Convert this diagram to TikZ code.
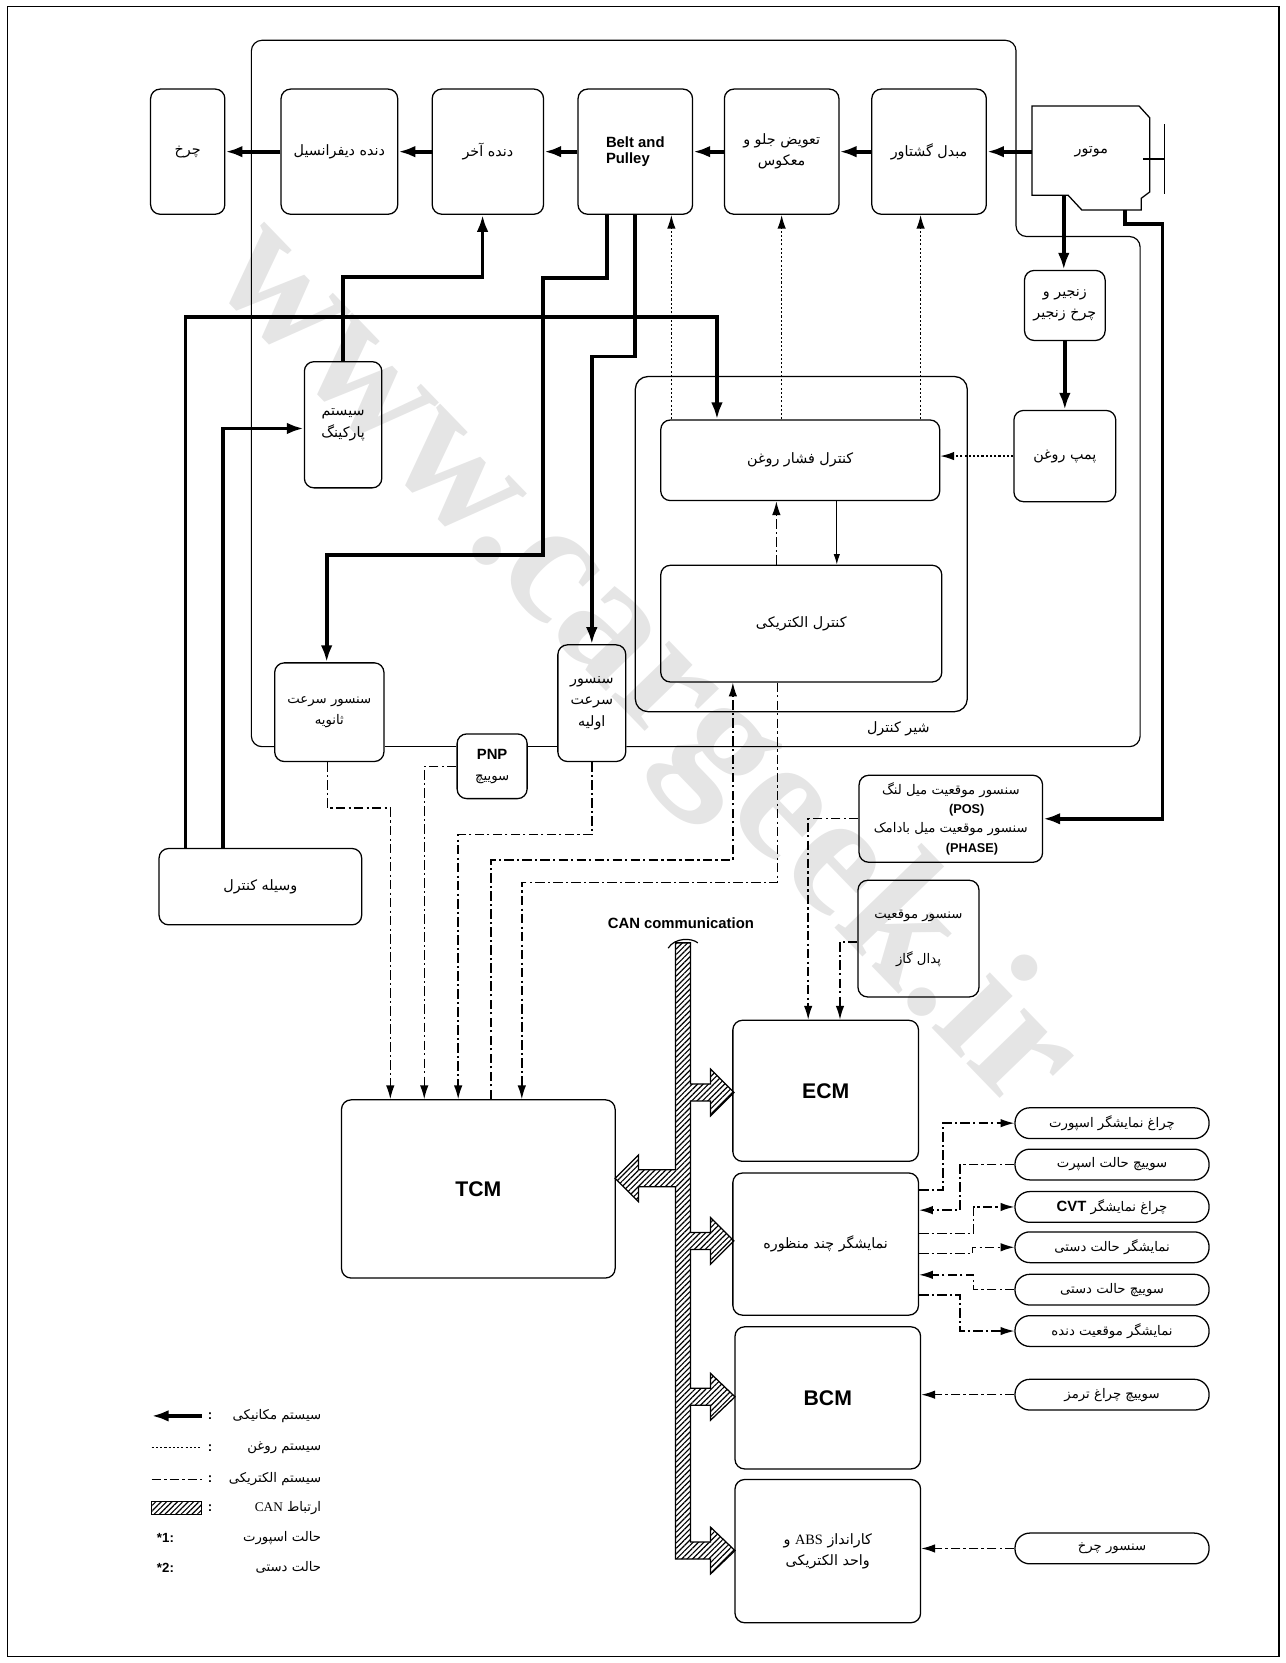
\documentclass[tikz,border=0pt]{standalone}
\usepackage{fontspec}
\setmainfont{Liberation Sans}
\newfontfamily\farsi[Script=Arabic]{DejaVu Sans}
\newfontfamily\serifl{Liberation Serif}
\usepackage{tikz}
\usetikzlibrary{arrows.meta,patterns.meta}
\TeXXeTstate=1
\newcommand{\fatext}[1]{{\farsi\beginR #1\endR}}
\newcommand{\lat}[1]{\beginL #1\endL}
\newcommand{\fs}{\fontsize{12.5}{20}\selectfont}
\newcommand{\fl}{\fontsize{13.5}{20}\selectfont}

\begin{document}
\begin{tikzpicture}[x=1pt, y=-1pt,
    box/.style={draw, rounded corners=9pt, line width=1.2pt, inner sep=2pt, align=center, font=\fs},
    wh/.style 2 args={minimum width=#1, minimum height=#2},
    pill/.style={draw, rounded corners=14pt, line width=1.2pt, minimum width=183, minimum height=29, inner sep=0pt, font=\fs},
    txt/.style={font=\fs, inner sep=1pt},
    housing/.style={line width=1.1pt, rounded corners=10pt},
    mechline/.style={line width=3.5pt},
    mech/.style={mechline, -{Latex[length=16pt,width=11pt]}},
    oil/.style={line width=1.3pt, dash pattern=on 2pt off 2pt, -{Latex[length=13pt,width=8pt]}},
    elec/.style={line width=1.3pt, dash pattern=on 9pt off 3pt on 2pt off 3pt, -{Latex[length=13pt,width=8pt]}},
    thinarrow/.style={line width=1pt, -{Latex[length=10pt,width=6pt]}},
    can/.style={draw, line width=1.2pt, pattern={Lines[angle=45,distance=3.6pt,line width=1.1pt]}},
    bigtext/.style={font=\fontsize{20}{24}\selectfont\bfseries}
]
\useasboundingbox (0,0) rectangle (1212,1568);

% Watermark
\node[rotate=-46, text=gray!20, font=\serifl\bfseries\fontsize{165}{165}\selectfont] (watermark) at (605,630) {www.cargeek.ir};

% Frame
\draw[line width=1.2pt] (7,6) rectangle (1206,1562);

% Top row
\node[box, wh={70}{118}, font=\fl] (wheel) at (177,143) {\fatext{چرخ}};
\node[box, wh={110}{118}, font=\fl] (diff) at (320,143) {\fatext{دنده دیفرانسیل}};
\node[box, wh={105}{118}, font=\fl] (final) at (460,143) {\fatext{دنده آخر}};
\node[box, wh={108}{118}, align=left, font=\bfseries\fontsize{14}{16}\selectfont] (belt) at (599,143) {Belt and\\Pulley};
\node[box, wh={108}{118}, font=\fl] (fwdrev) at (737,143) {\fatext{تعویض جلو و}\\\fatext{معکوس}};
\node[box, wh={108}{118}, font=\fl] (torque) at (876,143) {\fatext{مبدل گشتاور}};
\node[txt, wh={112}{86}, font=\fl] (engine) at (1029,143) {\fatext{موتور}};
\draw[line width=1.2pt] (973,100) -- (1074,100) -- (1084,111) -- (1084,181) -- (1076,187)
    -- (1076,198) -- (1020,198) -- (1007,184) -- (973,184) -- cycle;
\draw[line width=1.2pt] (1078,150) -- (1098,150) (1098,117) -- (1098,183);

% Right column
\node[box, wh={76}{66}, font=\fl] (chain) at (1004,288) {\fatext{زنجیر و}\\\fatext{چرخ زنجیر}};
\node[box, wh={96}{86}, font=\fl] (pump) at (1004,430) {\fatext{پمپ روغن}};

% Control valve
\node[box, wh={313}{316}, rounded corners=12pt] (valve) at (755.5,513) {};
\node[box, wh={263}{76}, font=\fl] (press) at (754.5,434) {\fatext{کنترل فشار روغن}};
\node[box, wh={265}{110}, font=\fl] (elec) at (755.5,588) {\fatext{کنترل الکتریکی}};
\node[txt, font=\fl] (valvelabel) at (847,687) {\fatext{شیر کنترل}};

% Sensors and parking
\node[box, wh={73}{119}, font=\fl] (park) at (323.5,400.5) {\fatext{سیستم}\\\fatext{پارکینگ}};
\node[box, wh={103}{93}] (sec) at (310.5,671.5) {\fatext{سنسور سرعت}\\\fatext{ثانویه}};
\node[box, wh={66}{61}] (pnp) at (464,722.5) {{\bfseries\fontsize{14}{16}\selectfont PNP}\\\fatext{سوییچ}};
\node[box, wh={64}{110}, font=\fl] (prim) at (558,663) {\fatext{سنسور}\\\fatext{سرعت}\\\fatext{اولیه}};
\node[box, wh={191}{72}, font=\fl] (ctrl) at (245.5,836) {\fatext{وسیله کنترل}};
\node[box, wh={173}{82}, font=\fontsize{12.5}{18}\selectfont] (pos) at (896.5,772) {\fatext{سنسور موقعیت میل لنگ}\\\hspace*{30pt}{\bfseries\fontsize{12}{14}\selectfont (POS)}\\\fatext{سنسور موقعیت میل بادامک}\\\hspace*{40pt}{\bfseries\fontsize{12}{14}\selectfont (PHASE)}};
\node[box, wh={114}{110}] (pedal) at (866,885) {\fatext{سنسور موقعیت}\\[22pt]\fatext{پدال گاز}};

% Control units
\node[box, wh={258}{168}, bigtext] (tcm) at (451,1121) {TCM};
\node[box, wh={175}{133}, bigtext] (ecm) at (778.5,1028.5) {ECM};
\node[box, wh={175}{134}, font=\fl] (md) at (778.5,1173) {\fatext{نمایشگر چند منظوره}};
\node[box, wh={175}{134}, bigtext] (bcm) at (780.5,1318) {BCM};
\node[box, wh={175}{135}, font=\fl] (abs) at (780.5,1462.5) {\fatext{کارانداز \lat{{\serifl ABS}} و}\\\fatext{واحد الکتریکی}};

% Switches and lamps
\node[pill] (sportlamp) at (1048.5,1059) {\fatext{چراغ نمایشگر اسپورت}};
\node[pill] (sportsw) at (1048.5,1098) {\fatext{سوییچ حالت اسپرت}};
\node[pill] (cvtlamp) at (1048.5,1138) {\fatext{چراغ نمایشگر \lat{{\normalfont\bfseries\fontsize{14}{15}\selectfont CVT}}}};
\node[pill] (manualdisp) at (1048.5,1176) {\fatext{نمایشگر حالت دستی}};
\node[pill] (manualsw) at (1048.5,1216) {\fatext{سوییچ حالت دستی}};
\node[pill] (gearpos) at (1048.5,1255) {\fatext{نمایشگر موقعیت دنده}};
\node[pill] (brakesw) at (1048.5,1315) {\fatext{سوییچ چراغ ترمز}};
\node[pill] (wheelsen) at (1048.5,1460) {\fatext{سنسور چرخ}};

% Housing outline
\draw[housing] (sec.west |- 0,704) -| (237,38) -| (958,223) -| (1075,704) -- (prim.east |- 0,704);
\draw[line width=1.1pt] (sec.east |- 0,704) -- (pnp.west |- 0,704);
\draw[line width=1.1pt] (pnp.east |- 0,704) -- (prim.west |- 0,704);

% Mechanical lines
\foreach \a/\b in {engine/torque, torque/fwdrev, fwdrev/belt, belt/final, final/diff, diff/wheel}
    \draw[mech] (\a.west |- diff.west) -- (\b.east |- diff.west);
\coordinate (engchain) at (1003,184);
\coordinate (engcam) at (1061,198);
\draw[mech] (engchain) -- (engchain |- chain.north);
\draw[mech] (chain.south) -- (pump.north);
\draw[mech] (engcam) -- (1061,211) -| (1096,772) -- (pos.east);
\draw[mech] (belt.south -| 572,0) -- (572,262) -| (512,523) -| (sec.north -| 308,0);
\draw[mech] (belt.south) -- (599,336) -| (prim.north);
\draw[mech] (ctrl.north -| 175,0) -- (175,299) -| (press.north -| 676,0);
\draw[mech] (ctrl.north -| 210,0) |- (park.west |- 0,404);
\draw[mech] (park.north) -- (park.north |- 0,261) -| (final.south -| 455,0);

% Oil lines
\foreach \x/\n in {633/belt, 737/fwdrev, 868/torque}
    \draw[oil] (press.north -| \x,0) -- (\n.south -| \x,0);
\draw[oil] (pump.west) -- (press.east |- pump.west);

% Electric lines
\draw[elec] (elec.north -| 732,0) -- (press.south -| 732,0);
\draw[thinarrow] (press.south -| 789,0) -- (elec.north -| 789,0);
\draw[elec] (sec.south -| 309,0) -- (309,762) -| (tcm.north -| 368,0);
\draw[elec] (pnp.west) -| (tcm.north -| 400,0);
\draw[elec] (prim.south) -- (558,787) -| (tcm.north -| 432,0);
\draw[elec] (tcm.north -| 463,0) -- (463,811) -| (elec.south -| 691,0);
\draw[elec] (elec.south -| 733,0) -- (733,832) -| (tcm.north -| 492,0);
\draw[elec] (pos.west) -| (ecm.north -| 762,0);
\draw[elec] (pedal.west |- 0,888) -| (ecm.north -| 792,0);
\draw[elec] (md.east |- 0,1122) -| (889,1059) -- (sportlamp.west);
\draw[elec] (sportsw.west) -| (905,1141) -- (md.east |- 0,1141);
\draw[elec] (md.east |- 0,1163) -| (918,1138) -- (cvtlamp.west);
\draw[elec] (md.east |- 0,1182) -| (917,1176) -- (manualdisp.west);
\draw[elec] (manualsw.west) -| (918,1202) -- (md.east |- 0,1202);
\draw[elec] (md.east |- 0,1221) -| (905,1255) -- (gearpos.west);
\draw[elec] (brakesw.west) -- (bcm.east |- brakesw.west);
\draw[elec] (wheelsen.west) -- (abs.east |- wheelsen.west);

% CAN bus
\node[font=\bfseries\fontsize{14}{16}\selectfont] (canlabel) at (642,870) {CAN communication};
\draw[can] (637,889) -- (651,889)
    -- (651,1022) -- (670,1022) -- (670,1008) -- (692,1030) -- (670,1052) -- (670,1038) -- (651,1038)
    -- (651,1162) -- (670,1162) -- (670,1148) -- (692,1170) -- (670,1192) -- (670,1178) -- (651,1178)
    -- (651,1309) -- (670,1309) -- (670,1295) -- (693,1317) -- (670,1339) -- (670,1325) -- (651,1325)
    -- (651,1454) -- (670,1454) -- (670,1440) -- (693,1462) -- (670,1484) -- (670,1470)
    -- (637,1470) -- (637,1119) -- (602,1119) -- (602,1133) -- (580,1111) -- (602,1089)
    -- (602,1103) -- (637,1103) -- cycle;
\draw[line width=1.1pt] (630,894) .. controls (636,884) and (652,884) .. (658,889);

% Legend
\draw[mech] (190,1335) -- (143,1335);
\draw[oil, -] (143,1365) -- (190,1365);
\draw[elec, -] (143,1395) -- (190,1395);
\draw[can] (143,1416) rectangle (190,1428);
\foreach \y in {1335,1365,1395,1422}
    \node[txt, font=\bfseries\fs] (colon\y) at (198,\y) {:};
\node[txt, font=\bfseries\fs] (star1) at (156,1450) {*1:};
\node[txt, font=\bfseries\fs] (star2) at (156,1478) {*2:};
\node[txt, anchor=east] (leg1) at (304,1335) {\fatext{سیستم مکانیکی}};
\node[txt, anchor=east] (leg2) at (304,1365) {\fatext{سیستم روغن}};
\node[txt, anchor=east] (leg3) at (304,1395) {\fatext{سیستم الکتریکی}};
\node[txt, anchor=east] (leg4) at (304,1422) {\fatext{ارتباط \lat{{\serifl CAN}}}};
\node[txt, anchor=east] (leg5) at (304,1450) {\fatext{حالت اسپورت}};
\node[txt, anchor=east] (leg6) at (304,1478) {\fatext{حالت دستی}};

\end{tikzpicture}
\end{document}
